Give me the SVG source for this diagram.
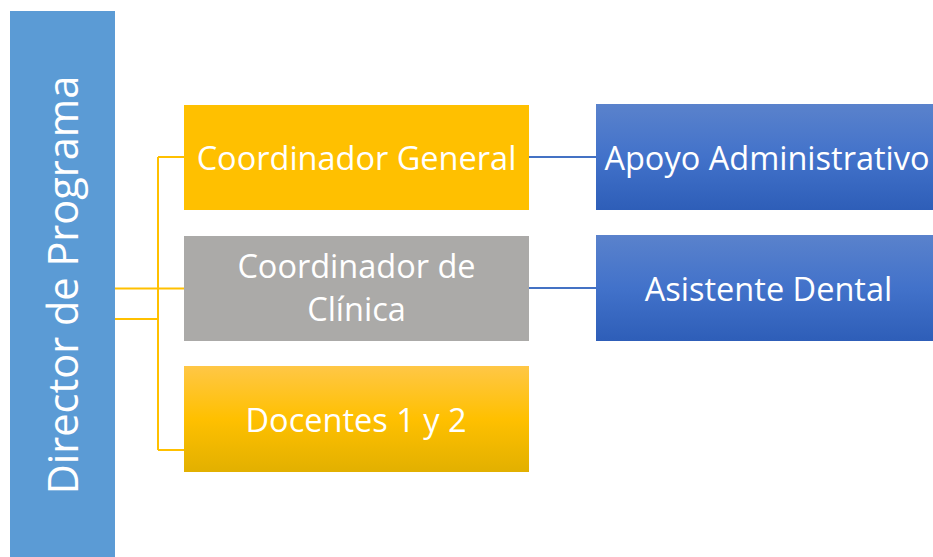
<svg xmlns="http://www.w3.org/2000/svg" width="933" height="557" viewBox="0 0 933 557">
<defs>
<linearGradient id="gY" x1="0" y1="0" x2="0" y2="1">
<stop offset="0" stop-color="#FFC746"/><stop offset="0.5" stop-color="#FFC000"/><stop offset="1" stop-color="#E2B000"/>
</linearGradient>
<linearGradient id="gB" x1="0" y1="0" x2="0" y2="1">
<stop offset="0" stop-color="#5A82CC"/><stop offset="0.5" stop-color="#4272CA"/><stop offset="1" stop-color="#2E5EB8"/>
</linearGradient>
<style>
.t{font-family:"Open Sans","Noto Sans",sans-serif;fill:#fff;text-anchor:middle;dominant-baseline:central;font-size:32.5px}
.a{dominant-baseline:alphabetic}
.y{stroke:#FFC000;stroke-width:2;fill:none}
.b{stroke:#4472C4;stroke-width:2;fill:none}
</style>
</defs>
<g id="connectors">
<path class="y" d="M115 288.5H184M115 319H158M158 157V450M158 157H184M158 450H184"/>
<path class="b" d="M529 157H596M529 288H596"/>
</g>
<g id="director">
<rect x="10" y="11" width="105" height="546" fill="#5B9BD5"/>
<text class="t" style="font-size:41.5px" transform="translate(62 285) rotate(-90)">Director de Programa</text>
</g>
<g id="coord-general">
<rect x="184" y="105" width="345" height="105" fill="#FFC000"/>
<text class="t" x="356.5" y="157">Coordinador General</text>
</g>
<g id="coord-clinica">
<rect x="184" y="236" width="345" height="105" fill="#ABAAA8"/>
<text class="t a" x="356.5" y="278">Coordinador de</text>
<text class="t a" x="356.5" y="321">Clínica</text>
</g>
<g id="docentes">
<rect x="184" y="366" width="345" height="106" fill="url(#gY)"/>
<text class="t" x="356" y="419">Docentes 1 y 2</text>
</g>
<g id="apoyo">
<rect x="596" y="104" width="337" height="106" fill="url(#gB)"/>
<text class="t" x="767" y="157">Apoyo Administrativo</text>
</g>
<g id="asistente">
<rect x="596" y="235" width="337" height="106" fill="url(#gB)"/>
<text class="t" x="768.5" y="288">Asistente Dental</text>
</g>
</svg>
